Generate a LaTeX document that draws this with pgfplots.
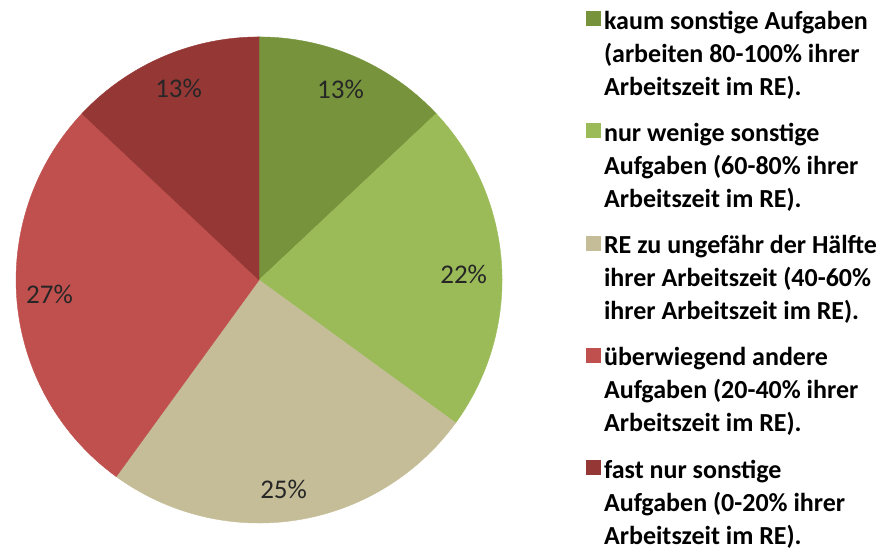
\documentclass[border=0pt]{standalone}
\usepackage{pgfplots}
\pgfplotsset{compat=1.18}
\usepackage{fontspec}
\setmainfont{Carlito}
\definecolor{cA}{HTML}{77933C}
\definecolor{cB}{HTML}{9BBB59}
\definecolor{cC}{HTML}{C4BD97}
\definecolor{cD}{HTML}{C0504D}
\definecolor{cE}{HTML}{953735}
\pgfplotsset{
  sq/.style={legend image code/.code={\fill[##1] (0pt,13.5pt) rectangle (7pt,20.5pt);}}
}
\begin{document}
\begin{tikzpicture}
\begin{axis}[
  width=443pt, height=275pt, scale only axis,
  xmin=-1.066, xmax=2.580, ymin=-1.111, ymax=1.152,
  hide axis, clip=false,
  legend style={at={(rel axis cs:0.661,0.9954)}, anchor=north west,
    draw=none, fill=none, inner sep=0pt, outer sep=0pt,
    font=\bfseries\fontsize{13}{16.5}\selectfont,
    cells={anchor=west, align=left, inner xsep=4.5pt, inner ysep=0pt},
    row sep=6.0pt},
]
% sectors: domain = cumulative percentages (13, 22, 25, 27, 13), clockwise from top
\addplot[sq, fill=cA, draw=cA, line width=0.2pt, domain=0:13, samples=60]
  ({cos(90-3.6*x)},{sin(90-3.6*x)}) -- (axis cs:0,0) -- cycle;
\addlegendentry{\strut kaum sonstige Aufgaben\\(arbeiten 80-100\% ihrer\\Arbeitszeit im RE).\strut}
\addplot[sq, fill=cB, draw=cB, line width=0.2pt, domain=13:35, samples=80]
  ({cos(90-3.6*x)},{sin(90-3.6*x)}) -- (axis cs:0,0) -- cycle;
\addlegendentry{\strut nur wenige sonstige\\Aufgaben (60-80\% ihrer\\Arbeitszeit im RE).\strut}
\addplot[sq, fill=cC, draw=cC, line width=0.2pt, domain=35:60, samples=80]
  ({cos(90-3.6*x)},{sin(90-3.6*x)}) -- (axis cs:0,0) -- cycle;
\addlegendentry{\strut RE zu ungefähr der Hälfte\\ihrer Arbeitszeit (40-60\%\\ihrer Arbeitszeit im RE).\strut}
\addplot[sq, fill=cD, draw=cD, line width=0.2pt, domain=60:87, samples=80]
  ({cos(90-3.6*x)},{sin(90-3.6*x)}) -- (axis cs:0,0) -- cycle;
\addlegendentry{\strut überwiegend andere\\Aufgaben (20-40\% ihrer\\Arbeitszeit im RE).\strut}
\addplot[sq, fill=cE, draw=cE, line width=0.2pt, domain=87:100, samples=60]
  ({cos(90-3.6*x)},{sin(90-3.6*x)}) -- (axis cs:0,0) -- cycle;
\addlegendentry{\strut fast nur sonstige\\Aufgaben (0-20\% ihrer\\Arbeitszeit im RE).\strut}
% percentage labels
\addplot[forget plot, only marks, mark=none, nodes near coords,
  point meta=explicit symbolic, nodes near coords align=center,
  every node near coord/.append style={font=\fontsize{13.5}{16}\selectfont, text=black!85, inner sep=0pt}]
  coordinates {
  (0.335,0.786) [13\%]
  (0.842,0.023) [22\%]
  (0.101,-0.860) [25\%]
  (-0.862,-0.058) [27\%]
  (-0.331,0.790) [13\%]
  };
\coordinate (ll) at (rel axis cs:0,0);
\coordinate (ur) at (rel axis cs:1,1);
\end{axis}
\pgfresetboundingbox
\path (ll) rectangle (ur);
\end{tikzpicture}
\end{document}
